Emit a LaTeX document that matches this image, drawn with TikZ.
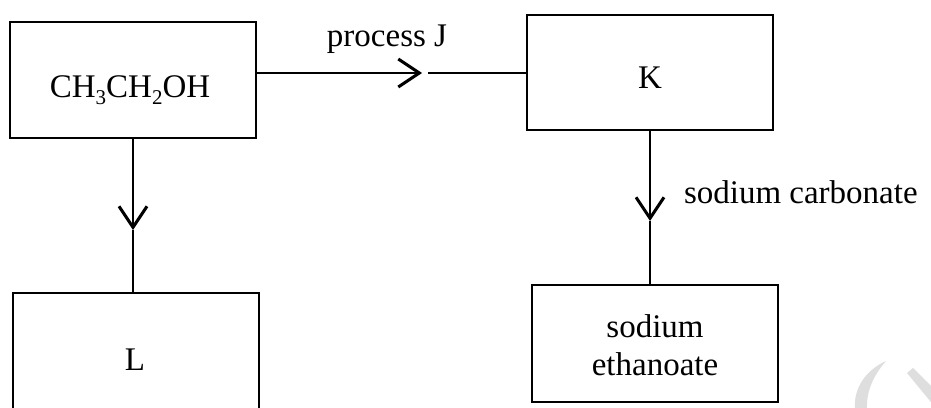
\documentclass[tikz,border=0pt]{standalone}
\usepackage{fontspec}
\setmainfont{Liberation Serif}
\usetikzlibrary{arrows.meta}
\newcommand\sbs[1]{\raisebox{-0.22em}{\fontsize{21}{21}\selectfont #1}}
\begin{document}
\begin{tikzpicture}[x=1pt,y=-1pt,
  box/.style={draw, line width=2.8pt, minimum width=246pt, inner sep=0pt, outer sep=0pt},
  lbl/.style={font=\fontsize{33}{38}\selectfont, inner sep=0pt, outer sep=0pt},
  conn/.style={line width=2.8pt},
  arr/.style={conn, -{Straight Barb[length=21pt,width=28pt,line width=3pt]}},
  wm/.style={fill=black!13, draw=none}]
\useasboundingbox (0,0) rectangle (931,407);
\clip (0,0) rectangle (931,407);

% boxes
\node[box, minimum height=116pt] (A) at (133,80) {};
\node[box, minimum height=115pt] (K) at (650,72.5) {};
\node[box, minimum height=117pt] (E) at (655,343.5) {};
\node[box, minimum height=140pt] (L) at (136,363) {};

% texts
\node[lbl, anchor=base] (tA) at (130,97) {CH\sbs{3}CH\sbs{2}OH};
\node[lbl, anchor=base] (tK) at (650,88) {K};
\node[lbl, anchor=base] (tL) at (135,370) {L};
\node[lbl, align=center] (tE) at (655,345) {sodium\\ethanoate};
\node[lbl, anchor=base] (pJ) at (387,46) {process J};
\node[lbl, anchor=base west] (sc) at (684,203) {sodium carbonate};

% connectors
\coordinate (j1) at (422,73);
\coordinate (j2) at (428,73);
\draw[arr] (A.east |- j1) -- (j1);
\draw[conn] (j2) -- (K.west |- j2);

\coordinate (l1) at (133,230);
\draw[arr] (A.south) -- (l1);
\draw[conn] (l1) -- (L.north -| l1);

\coordinate (k1) at (650,221);
\draw[arr] (K.south) -- (k1);
\draw[conn] (k1) -- (k1 |- E.north);

% faint watermark
\fill[wm] (886,361) .. controls (866,370) and (853,388) .. (855,410) -- (867,410)
  .. controls (866,392) and (873,376) .. (886,361) -- cycle;
\fill[wm] (907,373) -- (913,368) -- (935,390) -- (935,407) -- cycle;
\end{tikzpicture}
\end{document}
